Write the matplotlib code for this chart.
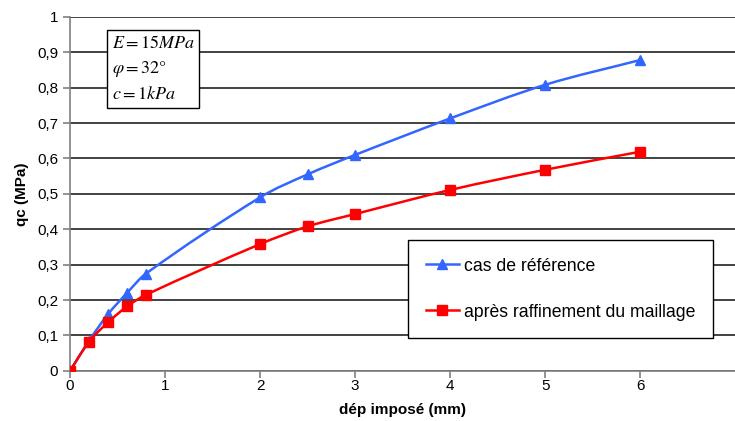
import matplotlib
matplotlib.use("Agg")
import matplotlib.pyplot as plt
from matplotlib.path import Path
from matplotlib.patches import PathPatch
from matplotlib.ticker import FuncFormatter, MultipleLocator

plt.rcParams['font.family'] = ['Liberation Sans', 'DejaVu Sans']
plt.rcParams['mathtext.fontset'] = 'stix'

dep = [0, 0.2, 0.4, 0.6, 0.8, 2, 2.5, 3, 4, 5, 6]
ref = [0, 0.085, 0.16, 0.22, 0.275, 0.49, 0.555, 0.61, 0.713, 0.808, 0.878]
raff = [0, 0.082, 0.137, 0.182, 0.215, 0.358, 0.408, 0.443, 0.511, 0.568, 0.619]
labels = ["cas de référence", "après raffinement du maillage"]
colors = ["#3366FF", "#FF0000"]


def smooth_path(x, y):
    n = len(x)
    m = []
    for i in range(n):
        a, b = max(i - 1, 0), min(i + 1, n - 1)
        m.append((y[b] - y[a]) / (x[b] - x[a]))
    verts = [(x[0], y[0])]
    codes = [Path.MOVETO]
    for i in range(n - 1):
        h = (x[i + 1] - x[i]) / 3
        verts += [(x[i] + h, y[i] + m[i] * h),
                  (x[i + 1] - h, y[i + 1] - m[i + 1] * h),
                  (x[i + 1], y[i + 1])]
        codes += [Path.CURVE4] * 3
    return Path(verts, codes)


fig = plt.figure(figsize=(7.35, 4.21), dpi=100)
ax = fig.add_axes([0.0952, 0.119, 0.905, 0.841])

for ys, c, mk, lab in [(ref, colors[0], '^', labels[0]), (raff, colors[1], 's', labels[1])]:
    ax.add_patch(PathPatch(smooth_path(dep, ys), facecolor='none', edgecolor=c, lw=1.8, zorder=3))
    ax.plot(dep, ys, linestyle='none', marker=mk, color=c, markersize=7, zorder=4)
    ax.plot([], [], color=c, marker=mk, markersize=7, lw=1.8, label=lab)

ax.set_xlim(0, 7)
ax.set_ylim(0, 1)
ax.yaxis.set_major_locator(MultipleLocator(0.1))
fmt = FuncFormatter(lambda v, p: ("%g" % round(v, 2)).replace('.', ','))
ax.xaxis.set_major_formatter(fmt)
ax.yaxis.set_major_formatter(fmt)
ax.set_xticks(range(0, 7))
ax.grid(axis='y', color='#222222', lw=1.2)
ax.set_axisbelow(True)
for s in ['top', 'right']:
    ax.spines[s].set_visible(False)
for s in ['left', 'bottom']:
    ax.spines[s].set_color('#808080')
    ax.spines[s].set_linewidth(1.2)
ax.tick_params(axis='both', labelsize=11, color='#808080', length=5, width=1.2)
ax.tick_params(axis='x', pad=1)

ax.set_xlabel("dép imposé (mm)", fontsize=11, fontweight='bold', labelpad=7)
ax.set_ylabel("qc (MPa)", fontsize=11, fontweight='bold', labelpad=6)

ax.text(0.44, 0.95,
        "$E = 15MPa$\n$\\varphi = 32°$\n$c = 1kPa$",
        fontsize=13, va='top', ha='left', linespacing=1.55,
        bbox=dict(boxstyle='square,pad=0.25', fc='white', ec='black', lw=1.0))

leg = ax.legend(loc='upper left', bbox_to_anchor=(0.508, 0.37), frameon=True,
                fancybox=False, edgecolor='black', fontsize=12.7, handlelength=1.9,
                labelspacing=1.65, borderpad=1.0, handletextpad=0.3, framealpha=1,
                borderaxespad=0)
leg.get_frame().set_linewidth(1.0)

fig.savefig("out.png", dpi=100)
